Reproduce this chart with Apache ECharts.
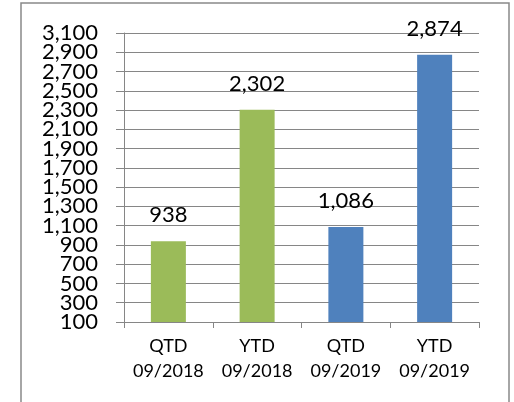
<!DOCTYPE html>
<html>
<head>
<meta charset="utf-8">
<script src="https://cdn.jsdelivr.net/npm/echarts@6/dist/echarts.min.js"></script>
<style>
  html, body { margin: 0; padding: 0; background: #fff; }
  #chart { width: 514px; height: 402px; }
</style>
</head>
<body>
<div id="chart"></div>
<script>
const categories = ['QTD\n09/2018', 'YTD\n09/2018', 'QTD\n09/2019', 'YTD\n09/2019'];
const values = [938, 2302, 1086, 2874];
const barColors = ['#9BBB59', '#9BBB59', '#4F81BD', '#4F81BD'];
const yMin = 100;
const yMax = 3100;
const yStep = 200;
const yTickLabels = ['100', '300', '500', '700', '900', '1,100', '1,300', '1,500',
  '1,700', '1,900', '2,100', '2,300', '2,500', '2,700', '2,900', '3,100'];

const myChart = echarts.init(document.getElementById('chart'));
const font = 'Lato, Carlito, sans-serif';
const gray = '#868686';

const option = {
  animation: false,
  graphic: [{
    type: 'rect',
    shape: { x: 21, y: 3, width: 488, height: 420 },
    style: { fill: 'none', stroke: '#898989', lineWidth: 1.5 }
  }],
  grid: { left: 124, right: 35, top: 33, bottom: 80 },
  xAxis: {
    type: 'category',
    data: categories,
    axisLine: { lineStyle: { color: gray, width: 1 } },
    axisTick: { show: true, length: 6, lineStyle: { color: gray } },
    axisLabel: {
      interval: 0,
      color: '#000', fontFamily: font, fontSize: 18, lineHeight: 25, margin: 12
    }
  },
  yAxis: [{
    type: 'value',
    min: yMin,
    max: yMax,
    interval: yStep,
    axisLine: { show: true, lineStyle: { color: gray, width: 1 } },
    axisTick: { show: true, length: 8, lineStyle: { color: gray } },
    splitLine: { lineStyle: { color: gray, width: 1 } },
    axisLabel: { show: false }
  }, {
    // labels only, one per tick, so none get dropped for overlapping
    type: 'category',
    position: 'left',
    data: yTickLabels,
    boundaryGap: false,
    axisLine: { show: false },
    axisTick: { show: false },
    splitLine: { show: false },
    axisLabel: {
      interval: 0,
      color: '#000', fontFamily: font, fontSize: 22, margin: 26
    }
  }],
  series: [{
    type: 'bar',
    barWidth: 35,
    data: values.map((v, i) => ({ value: v, itemStyle: { color: barColors[i] } })),
    label: {
      show: true, position: 'top', distance: 15,
      color: '#000', fontFamily: font, fontSize: 22,
      formatter: p => p.value.toLocaleString('en-US')
    }
  }]
};

myChart.setOption(option);
window.addEventListener('resize', function () { myChart.resize(); });
</script>
</body>
</html>
